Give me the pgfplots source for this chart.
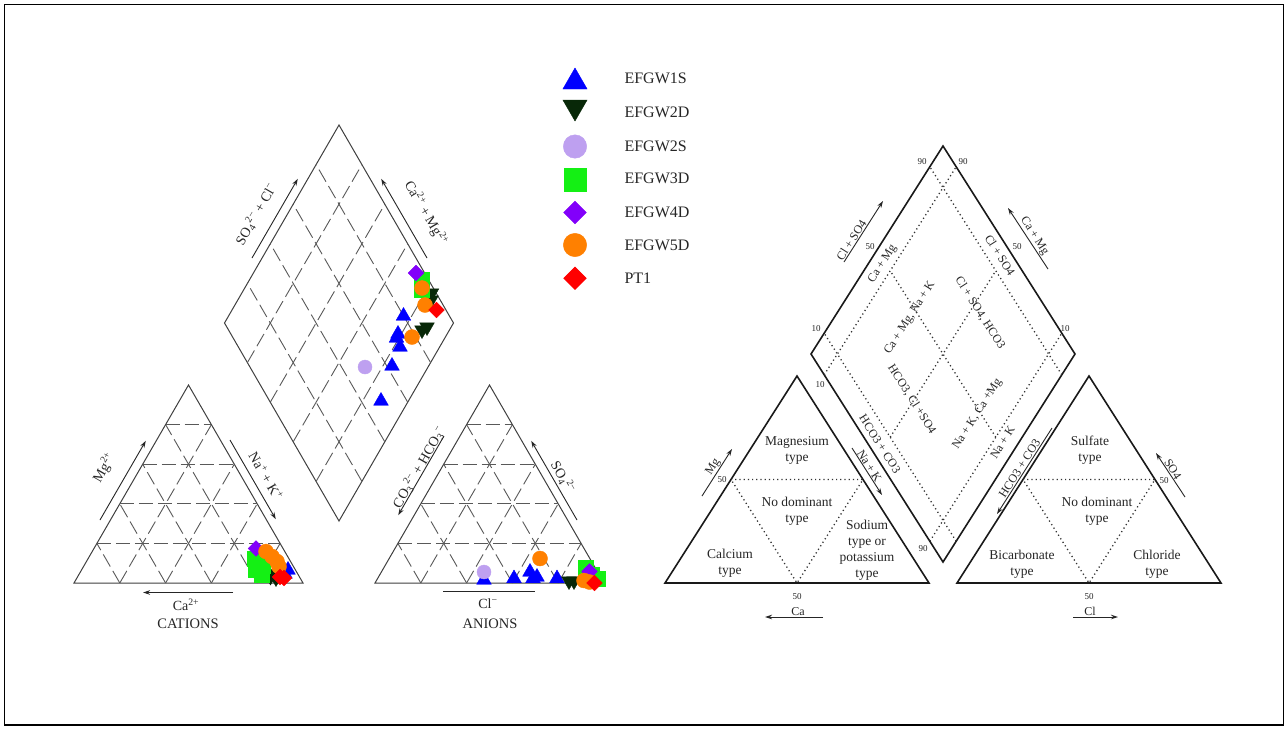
\documentclass[border=0pt]{standalone}
\usepackage{pgfplots}
\pgfplotsset{compat=1.18}
\usepackage{fontspec}
\setmainfont{Liberation Serif}
\usetikzlibrary{arrows.meta}
\definecolor{c1S}{RGB}{0,0,255}
\definecolor{c2D}{RGB}{8,40,8}
\definecolor{c2S}{RGB}{190,160,240}
\definecolor{c3D}{RGB}{20,240,20}
\definecolor{c4D}{RGB}{130,0,250}
\definecolor{c5D}{RGB}{255,128,0}
\definecolor{cPT}{RGB}{255,0,0}
\newcommand\fsz[2]{\fontsize{#1}{#2}\selectfont}
\tikzset{
  ol/.style={draw=black!75,line width=1pt},
  gd/.style={draw=black!65,line width=0.9pt,dash pattern=on 14pt off 5pt},
  ro/.style={draw=black!90,line width=1.6pt},
  dt/.style={draw=black!80,line width=1.3pt,dash pattern=on 1.2pt off 3pt},
  ar/.style={draw=black!85,line width=0.9pt,-{Stealth[length=7pt,width=4.5pt]}},
  lt/.style={text=black!85,font=\fsz{14}{16}},
  rt/.style={text=black!85,font=\fsz{12}{14}},
  rl/.style={text=black!85,font=\fsz{13.5}{16},align=center},
  nm/.style={text=black!85,font=\fsz{9}{10}},
}
\begin{document}
\begin{tikzpicture}
\begin{axis}[x=1pt,y=1pt,xmin=0,xmax=1288,ymin=0,ymax=729,y dir=reverse,hide axis,clip=false]
% background and frame
\addplot[fill=white,draw=none] coordinates {(0,0)(1288,0)(1288,729)(0,729)};
\addplot[draw=black,line width=1.4pt] coordinates {(4.5,4.5)(1283.5,4.5)(1283.5,725)(4.5,725)(4.5,4.5)(1283.5,4.5)};
% ===== left piper: outlines
\addplot[ol] coordinates {(74,583)(303,583)(188.5,385)(74,583)(303,583)};
\addplot[ol] coordinates {(375,583)(604,583)(489.5,385)(375,583)(604,583)};
\addplot[ol] coordinates {(339,125)(453.5,323)(339,521)(224.5,323)(339,125)(453.5,323)};
% cation grid
\addplot[gd] coordinates {(96.9,543.4)(280.1,543.4)};
\addplot[gd] coordinates {(119.8,503.8)(257.2,503.8)};
\addplot[gd] coordinates {(142.7,464.2)(234.3,464.2)};
\addplot[gd] coordinates {(165.6,424.6)(211.4,424.6)};
\addplot[gd] coordinates {(119.8,583)(211.4,424.6)};
\addplot[gd] coordinates {(165.6,583)(234.3,464.2)};
\addplot[gd] coordinates {(211.4,583)(257.2,503.8)};
\addplot[gd] coordinates {(257.2,583)(280.1,543.4)};
\addplot[gd] coordinates {(119.8,583)(96.9,543.4)};
\addplot[gd] coordinates {(165.6,583)(119.8,503.8)};
\addplot[gd] coordinates {(211.4,583)(142.7,464.2)};
\addplot[gd] coordinates {(257.2,583)(165.6,424.6)};
% anion grid
\addplot[gd] coordinates {(397.9,543.4)(581.1,543.4)};
\addplot[gd] coordinates {(420.8,503.8)(558.2,503.8)};
\addplot[gd] coordinates {(443.7,464.2)(535.3,464.2)};
\addplot[gd] coordinates {(466.6,424.6)(512.4,424.6)};
\addplot[gd] coordinates {(420.8,583)(512.4,424.6)};
\addplot[gd] coordinates {(466.6,583)(535.3,464.2)};
\addplot[gd] coordinates {(512.4,583)(558.2,503.8)};
\addplot[gd] coordinates {(558.2,583)(581.1,543.4)};
\addplot[gd] coordinates {(420.8,583)(397.9,543.4)};
\addplot[gd] coordinates {(466.6,583)(420.8,503.8)};
\addplot[gd] coordinates {(512.4,583)(443.7,464.2)};
\addplot[gd] coordinates {(558.2,583)(466.6,424.6)};
% diamond grid
\addplot[gd] coordinates {(316.1,481.4)(430.6,283.4)};
\addplot[gd] coordinates {(293.2,441.8)(407.7,243.8)};
\addplot[gd] coordinates {(270.3,402.2)(384.8,204.2)};
\addplot[gd] coordinates {(247.4,362.6)(361.9,164.6)};
\addplot[gd] coordinates {(361.9,481.4)(247.4,283.4)};
\addplot[gd] coordinates {(384.8,441.8)(270.3,243.8)};
\addplot[gd] coordinates {(407.7,402.2)(293.2,204.2)};
\addplot[gd] coordinates {(430.6,362.6)(316.1,164.6)};
% arrows left
\addplot[ar] coordinates {(100,520)(145.8,440.8)};
\addplot[ar] coordinates {(230,440)(275.8,519.2)};
\addplot[ar] coordinates {(233,592.5)(143,592.5)};
\addplot[ar] coordinates {(444,436)(398.2,515.2)};
\addplot[ar] coordinates {(577,520)(531.2,440.8)};
\addplot[draw=black!85,line width=0.9pt] coordinates {(443,591.5)(535,591.5)};
\addplot[ar] coordinates {(252,258)(297.8,178.8)};
\addplot[ar] coordinates {(427,258)(381.2,178.8)};
% labels left
\node[lt,rotate=60] at (104,468) {Mg\textsuperscript{2+}};
\node[lt,rotate=-60] at (266,476) {Na\textsuperscript{+} + K\textsuperscript{+}};
\node[lt] at (186,605) {Ca\textsuperscript{2+}};
\node[lt,font=\fsz{14.5}{16}] at (188,624) {CATIONS};
\node[lt,rotate=60] at (419,467) {CO\textsubscript{3}\textsuperscript{2−} + HCO\textsubscript{3}\textsuperscript{−}};
\node[lt,rotate=-60] at (563,477) {SO\textsubscript{4}\textsuperscript{2−}};
\node[lt] at (488,604) {Cl\textsuperscript{−}};
\node[lt,font=\fsz{14.5}{16}] at (490,624) {ANIONS};
\node[lt,rotate=60] at (256,214) {SO\textsubscript{4}\textsuperscript{2−} + Cl\textsuperscript{−}};
\node[lt,rotate=-60] at (426,213) {Ca\textsuperscript{2+} + Mg\textsuperscript{2+}};
% ===== data
\addplot[only marks,mark=triangle*,mark size=8.5,mark options={draw=c1S,fill=c1S}] coordinates {
(403.5,316)(398,334)(396.5,338)(400,347)(392,366)(381,401)
(288,570)(285,574)
(484,580)(514,578.5)(530,572)(533,578.5)(537,577)(557,578.5)};
\addplot[only marks,mark=triangle*,mark size=8.5,mark options={rotate=180,draw=c2D,fill=c2D}] coordinates {
(431.5,293)(431,300)(427,327)(422,330)
(270.5,576.5)(273.5,573.5)(276,578)
(569,581)(574,581)};
\addplot[only marks,mark=*,mark size=7,mark options={draw=c2S,fill=c2S}] coordinates {
(365,367)(484,572)};
\addplot[only marks,mark=square*,mark size=7.5,mark options={draw=c3D,fill=c3D}] coordinates {
(422,280)(422,290)
(255,559)(256,570)(263,566)(262,575)
(585.5,567.5)(592,575)(597.5,578.5)};
\addplot[only marks,mark=square*,mark size=5.5,mark options={rotate=45,draw=c4D,fill=c4D}] coordinates {
(416,273)(256,548.5)(589.5,571.5)};
\addplot[only marks,mark=*,mark size=7.5,mark options={draw=c5D,fill=c5D}] coordinates {
(422,288)(425,305)(412,337)
(266,551.5)(272,556.5)(277,561.5)(279,566.5)
(540,558.5)(584,580.5)(589.5,582)};
\addplot[only marks,mark=square*,mark size=5.5,mark options={rotate=45,draw=cPT,fill=cPT}] coordinates {
(436.5,310)(280,577)(284,578)(594.5,583)};
% legend
\addplot[only marks,mark=triangle*,mark size=14,mark options={draw=c1S,fill=c1S}] coordinates {(575,82)};
\addplot[only marks,mark=triangle*,mark size=14,mark options={rotate=180,draw=c2D,fill=c2D}] coordinates {(575,107)};
\addplot[only marks,mark=*,mark size=11.7,mark options={draw=c2S,fill=c2S}] coordinates {(575,146.5)};
\addplot[only marks,mark=square*,mark size=11.3,mark options={draw=c3D,fill=c3D}] coordinates {(575,179.5)};
\addplot[only marks,mark=square*,mark size=8,mark options={rotate=45,draw=c4D,fill=c4D}] coordinates {(575,212.5)};
\addplot[only marks,mark=*,mark size=11.7,mark options={draw=c5D,fill=c5D}] coordinates {(575,245)};
\addplot[only marks,mark=square*,mark size=8,mark options={rotate=45,draw=cPT,fill=cPT}] coordinates {(575,278.3)};
\node[anchor=west,text=black!85,font=\fsz{16}{18}] at (621,78.5) {EFGW1S};
\node[anchor=west,text=black!85,font=\fsz{16}{18}] at (621,112) {EFGW2D};
\node[anchor=west,text=black!85,font=\fsz{16}{18}] at (621,146.5) {EFGW2S};
\node[anchor=west,text=black!85,font=\fsz{16}{18}] at (621,178.5) {EFGW3D};
\node[anchor=west,text=black!85,font=\fsz{16}{18}] at (621,212) {EFGW4D};
\node[anchor=west,text=black!85,font=\fsz{16}{18}] at (621,245) {EFGW5D};
\node[anchor=west,text=black!85,font=\fsz{16}{18}] at (621,278.5) {PT1};
% ===== right classification diagram
\addplot[ro] coordinates {(665,583)(929,583)(797,376)(665,583)(929,583)};
\addplot[ro] coordinates {(957,583)(1221,583)(1089,376)(957,583)(1221,583)};
\addplot[ro] coordinates {(943,146)(1075,354)(943,562)(811,354)(943,146)(1075,354)};
\addplot[dt] coordinates {(731,479.5)(863,479.5)(797,583)(731,479.5)};
\addplot[dt] coordinates {(1023,479.5)(1155,479.5)(1089,583)(1023,479.5)};
\addplot[dt] coordinates {(929.8,541.2)(1061.8,333.2)};
\addplot[dt] coordinates {(824.2,374.8)(956.2,166.8)};
\addplot[dt] coordinates {(956.2,541.2)(824.2,333.2)};
\addplot[dt] coordinates {(1061.8,374.8)(929.8,166.8)};
\addplot[dt] coordinates {(890.2,437.2)(995.8,270.8)};
\addplot[dt] coordinates {(995.8,437.2)(890.2,270.8)};
% arrows right
\addplot[ar] coordinates {(844,262)(883,201)};
\addplot[ar] coordinates {(1048,269)(1008,208)};
\addplot[ar] coordinates {(852,448)(882,495)};
\addplot[ar] coordinates {(1052,428)(997,514)};
\addplot[ar] coordinates {(702,496)(732,449)};
\addplot[ar] coordinates {(1185,497)(1156,453)};
\addplot[ar] coordinates {(823,617)(765,617)};
\addplot[ar] coordinates {(1073,617)(1118,617)};
% region labels
\node[rl] at (797,450) {Magnesium\\type};
\node[rl] at (797,511) {No dominant\\type};
\node[rl] at (730,563.5) {Calcium\\type};
\node[rl] at (867,550) {Sodium\\type or\\potassium\\type};
\node[rl] at (1090,450) {Sulfate\\type};
\node[rl] at (1097,511) {No dominant\\type};
\node[rl] at (1022,564) {Bicarbonate\\type};
\node[rl] at (1157,564) {Chloride\\type};
% numbers
\node[nm] at (922,162) {90};
\node[nm] at (963,162) {90};
\node[nm] at (870,247) {50};
\node[nm] at (1017,247) {50};
\node[nm] at (816,329) {10};
\node[nm] at (1065,329) {10};
\node[nm] at (820,385) {10};
\node[nm] at (923,549) {90};
\node[nm] at (722,480) {50};
\node[nm] at (797,597) {50};
\node[nm] at (1164,481) {50};
\node[nm] at (1089,597) {50};
% rotated labels
\node[rt,rotate=57.5] at (882.5,264) {Ca + Mg};
\node[rt,rotate=-57.5] at (1000,255) {Cl + SO4};
\node[rt,rotate=57.5] at (910,318) {Ca + Mg, Na + K};
\node[rt,rotate=-57.5] at (980,313) {Cl + SO4, HCO3};
\node[rt,rotate=-57.5] at (911.7,399) {HCO3, Cl +SO4};
\node[rt,rotate=57.5] at (977.5,414) {Na + K, Ca +Mg};
\node[rt,rotate=57.5] at (1002.5,442.5) {Na + K};
\node[rt,rotate=-57.5] at (880,444) {HCO3 + CO3};
\node[rt,rotate=57.5,anchor=south,inner sep=1pt] at (856,243) {Cl + SO4};
\node[rt,rotate=-57.5,anchor=south,inner sep=1pt] at (1029,240) {Ca + Mg};
\node[rt,rotate=-57.5,anchor=south,inner sep=1pt] at (865,469) {Na + K};
\node[rt,rotate=57.5,anchor=south,inner sep=1pt] at (1024,471) {HCO3 + CO3};
\node[rt,rotate=57.5,anchor=south,inner sep=1pt] at (718.6,470) {Mg};
\node[rt,rotate=-57.5,anchor=south,inner sep=1pt] at (1168.5,472) {SO4};
\node[rt,anchor=south,inner sep=1pt] at (798,617) {Ca};
\node[rt,anchor=south,inner sep=1pt] at (1090,617) {Cl};
\end{axis}
\end{tikzpicture}
\end{document}
